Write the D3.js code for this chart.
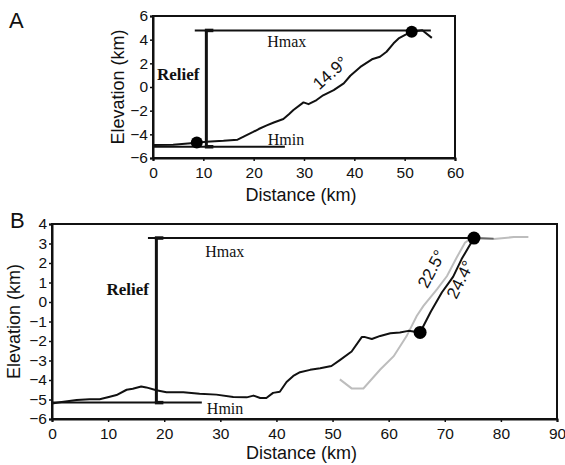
<!DOCTYPE html>
<html>
<head>
<meta charset="utf-8">
<script src="https://cdn.jsdelivr.net/npm/d3@7"></script>
<style>
  body { margin: 0; background: #fff; }
  svg text { font-family: "Liberation Sans", Arial, sans-serif; }
  .serif { font-family: "Liberation Serif", "Times New Roman", serif !important; }
</style>
</head>
<body>
<div id="chart"></div>
<script>
// ---- data (km) ----
var ticksAx = [0, 10, 20, 30, 40, 50, 60];
var ticksAy = [-6, -4, -2, 0, 2, 4, 6];
var ticksBx = [0, 10, 20, 30, 40, 50, 60, 70, 80, 90];
var ticksBy = [-6, -5, -4, -3, -2, -1, 0, 1, 2, 3, 4];

var profileA = [[0, -4.9], [4, -4.88], [8.7, -4.72], [10.6, -4.62], [14, -4.55], [16.8, -4.45],
  [18, -4.2], [19.9, -3.8], [21, -3.55], [22.6, -3.25], [24, -3.0], [25.9, -2.7], [27, -2.3],
  [27.9, -1.95], [29.9, -1.3], [30.9, -1.45], [32.5, -1.1], [33.8, -0.7], [35.9, -0.26],
  [37.9, 0.3], [39.2, 0.95], [41.2, 1.7], [43.5, 2.34], [45.1, 2.56], [46.4, 2.98],
  [47.8, 3.69], [48.8, 4.1], [50.1, 4.4], [51.4, 4.67], [53.5, 4.8], [55.4, 4.15]];
var dotsA = [[8.7, -4.7], [51.4, 4.67]];
var hmaxA = {y: 4.78, x0: 8.3, x1: 55.2};
var hminA = {y: -5.05, x0: 0, x1: 26.2};
var reliefA = {x: 10.6, y0: -5.05, y1: 4.78};
var slopeA = ["14.9°"];

var profileB = [[0, -5.2], [1.4, -5.14], [4.4, -5.03], [6.7, -4.99], [8.5, -4.99], [10.3, -4.86],
  [11.5, -4.77], [13.3, -4.5], [14.4, -4.45], [15.9, -4.33], [16.8, -4.38], [18.6, -4.53],
  [20.4, -4.63], [23.4, -4.63], [26.3, -4.7], [29.3, -4.75], [32.3, -4.87], [34.7, -4.89],
  [35.9, -4.8], [37.1, -4.92], [38.2, -4.92], [39.4, -4.66], [40.6, -4.6], [41.8, -4.1],
  [43, -3.79], [44.2, -3.6], [46, -3.48], [47.8, -3.4], [49.8, -3.28], [51.3, -2.98],
  [53.4, -2.54], [55.2, -1.8], [55.8, -1.8], [57, -1.9], [58.5, -1.74], [60.3, -1.6],
  [62, -1.56], [63.5, -1.48], [65.6, -1.56], [67.5, -0.5], [69.5, 0.5], [71, 1.1],
  [71.5, 1.3], [73, 2.2], [75.2, 3.28]];
var tailB = [[75.2, 3.28], [78.7, 3.25]];
var greyB = [[51.3, -3.97], [53.4, -4.43], [55.5, -4.43], [58.5, -3.46], [60.9, -2.78],
  [63.2, -1.75], [65, -0.72], [66.2, -0.2], [68.6, 0.65], [70.4, 1.33], [72.1, 2.27],
  [73.6, 3.04], [74.8, 3.28], [78.7, 3.23], [82.3, 3.33], [84.9, 3.33]];
var dotsB = [[65.6, -1.56], [75.2, 3.28]];
var hmaxB = {y: 3.28, x0: 17.1, x1: 75.2};
var hminB = {y: -5.16, x0: 0, x1: 26.7};
var reliefB = {x: 18.6, y0: -5.16, y1: 3.28};
var slopeB = ["22.5°", "24.4°"];

var W = 565, H = 465;
var svg = d3.select("#chart").append("svg")
  .attr("width", W)
  .attr("height", H);

var drawPanel = function(cfg){
  var x = d3.scaleLinear().domain(cfg.xDomain).range([cfg.left, cfg.right]);
  var y = d3.scaleLinear().domain(cfg.yDomain).range([cfg.bottom, cfg.top]);
  var g = svg.append("g");

  // frame
  g.append("rect")
    .attr("x", x(cfg.xDomain[0])).attr("y", y(cfg.yDomain[1]))
    .attr("width", x(cfg.xDomain[1]) - x(cfg.xDomain[0]))
    .attr("height", y(cfg.yDomain[0]) - y(cfg.yDomain[1]))
    .attr("fill", "none").attr("stroke", "#111").attr("stroke-width", 2);

  var xAxis = g.append("g")
    .attr("transform", "translate(0," + y(cfg.yDomain[0]) + ")")
    .call(d3.axisBottom(x).tickValues(cfg.xTicks).tickSize(3).tickPadding(6));
  var yAxis = g.append("g")
    .attr("transform", "translate(" + x(cfg.xDomain[0]) + ",0)")
    .call(d3.axisLeft(y).tickValues(cfg.yTicks).tickSize(3).tickPadding(2));
  [xAxis, yAxis].forEach(function(a){
    a.select(".domain").attr("stroke", "#111").attr("stroke-width", 2);
    a.selectAll(".tick line").attr("stroke", "#111").attr("stroke-width", 1.5);
    a.selectAll(".tick text").attr("fill", "#111").style("font-size", "15.5px")
      .style("font-family", "'Liberation Sans', Arial, sans-serif");
  });

  g.append("text")
    .attr("x", (cfg.left + cfg.right) / 2 - 3).attr("y", cfg.bottom + cfg.xtitleDy)
    .attr("text-anchor", "middle").style("font-size", "18px").attr("fill", "#111")
    .text("Distance (km)");
  g.append("text")
    .attr("transform", "translate(" + cfg.ytitleX + "," + (cfg.top + cfg.bottom) / 2 + ") rotate(-90)")
    .attr("text-anchor", "middle").style("font-size", "18px").attr("fill", "#111")
    .text("Elevation (km)");
  g.append("text")
    .attr("x", cfg.letterX).attr("y", cfg.letterY)
    .style("font-size", "22px").attr("fill", "#111")
    .text(cfg.letter);

  var line = d3.line().x(function(d){ return x(d[0]); }).y(function(d){ return y(d[1]); });

  // Hmax / Hmin / Relief
  [cfg.hmax, cfg.hmin].forEach(function(h){
    g.append("line")
      .attr("x1", x(h.x0)).attr("x2", x(h.x1)).attr("y1", y(h.y)).attr("y2", y(h.y))
      .attr("stroke", "#111").attr("stroke-width", 2);
  });
  g.append("line")
    .attr("x1", x(cfg.relief.x)).attr("x2", x(cfg.relief.x))
    .attr("y1", y(cfg.relief.y0)).attr("y2", y(cfg.relief.y1))
    .attr("stroke", "#111").attr("stroke-width", 3);
  [cfg.relief.y0, cfg.relief.y1].forEach(function(v){
    g.append("line")
      .attr("x1", x(cfg.relief.x) - 1.5).attr("x2", x(cfg.relief.x) + 7)
      .attr("y1", y(v)).attr("y2", y(v))
      .attr("stroke", "#111").attr("stroke-width", 3.5);
  });

  if (cfg.grey) {
    g.append("path").datum(cfg.grey).attr("d", line)
      .attr("fill", "none").attr("stroke", "#bdbdbd").attr("stroke-width", 2);
  }
  if (cfg.tail) {
    g.append("path").datum(cfg.tail).attr("d", line)
      .attr("fill", "none").attr("stroke", "#666").attr("stroke-width", 2);
  }
  g.append("path").datum(cfg.profile).attr("d", line)
    .attr("fill", "none").attr("stroke", "#111").attr("stroke-width", 2)
    .attr("stroke-linejoin", "round");

  g.selectAll("circle.dot").data(cfg.dots).enter().append("circle")
    .attr("cx", function(d){ return x(d[0]); })
    .attr("cy", function(d){ return y(d[1]); })
    .attr("r", cfg.dotR).attr("fill", "#000");

  // labels
  g.append("text").attr("class", "serif")
    .attr("x", x(cfg.reliefLabel[0])).attr("y", y(cfg.reliefLabel[1]))
    .style("font-size", "17px").style("font-weight", "bold").attr("fill", "#111")
    .text("Relief");
  g.append("text").attr("class", "serif")
    .attr("x", x(cfg.hmaxLabel[0])).attr("y", y(cfg.hmaxLabel[1]))
    .style("font-size", "16px").attr("fill", "#111").text("Hmax");
  g.append("text").attr("class", "serif")
    .attr("x", x(cfg.hminLabel[0])).attr("y", y(cfg.hminLabel[1]))
    .style("font-size", "16px").attr("fill", "#111").text("Hmin");

  cfg.slopes.forEach(function(s, i){
    var p = cfg.slopePos[i];
    g.append("text")
      .attr("transform", "translate(" + x(p[0]) + "," + y(p[1]) + ") rotate(" + p[2] + ")")
      .attr("text-anchor", "middle").attr("dy", "0.35em")
      .style("font-size", "17px").attr("fill", "#111")
      .text(s);
  });
};

drawPanel({
  letter: "A", letterX: 9, letterY: 28,
  xDomain: [0, 60], yDomain: [-6, 6], xTicks: ticksAx, yTicks: ticksAy,
  left: 153, right: 455, top: 16, bottom: 158, ytitleX: 124, xtitleDy: 43,
  profile: profileA, dots: dotsA, dotR: 6,
  hmax: hmaxA, hmin: hminA, relief: reliefA,
  reliefLabel: [0.8, 0.6], hmaxLabel: [22.7, 3.4], hminLabel: [22.8, -4.9],
  slopes: slopeA, slopePos: [[35.2, 1.2, -42]]
});

drawPanel({
  letter: "B", letterX: 10, letterY: 228,
  xDomain: [0, 90], yDomain: [-6, 4], xTicks: ticksBx, yTicks: ticksBy,
  left: 52, right: 557, top: 224, bottom: 419, ytitleX: 20, xtitleDy: 40,
  profile: profileB, grey: greyB, tail: tailB, dots: dotsB, dotR: 6.5,
  hmax: hmaxB, hmin: hminB, relief: reliefB,
  reliefLabel: [9.7, 0.37], hmaxLabel: [27.3, 2.3], hminLabel: [27.6, -5.72],
  slopes: slopeB, slopePos: [[67.6, 1.7, -62], [72.7, 1.15, -63]]
});
</script>
</body>
</html>
